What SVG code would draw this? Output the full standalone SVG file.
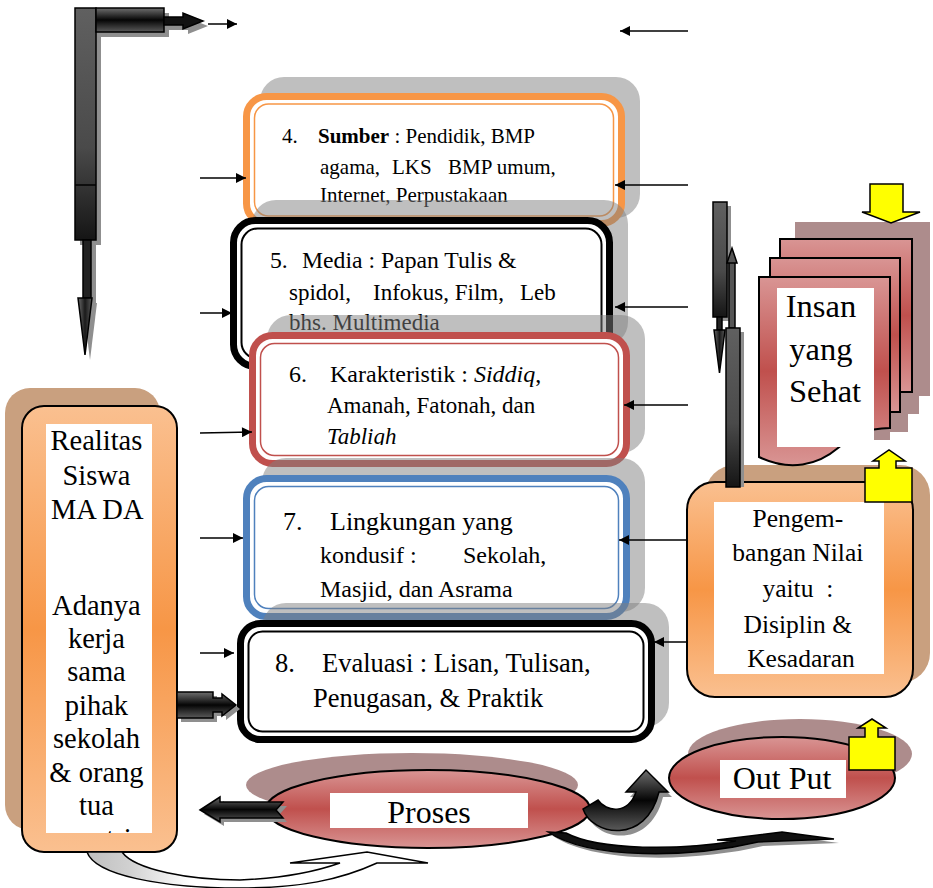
<svg xmlns="http://www.w3.org/2000/svg" width="933" height="888" viewBox="0 0 933 888">
  <style>
    text { font-family: "Liberation Serif", "Times New Roman", Times, "DejaVu Serif", serif; fill: #000; }
    .lnk { stroke: #000; stroke-width: 1.5; fill: none; marker-end: url(#ah); }
    .shade { fill: #7f7f7f; opacity: 0.5; }
    .ol { stroke: #000; stroke-width: 1.5; }
    .page { fill: url(#gRed); stroke: #000; stroke-width: 2; }
    .yel { fill: #FFFF00; stroke: #000; stroke-width: 1.5; }
    .dropS { fill: #8f8f8f; }
  </style>
  <defs>
    <marker id="ah" viewBox="0 0 10 10" refX="10" refY="5" markerWidth="12" markerHeight="10" markerUnits="userSpaceOnUse" orient="auto">
      <path d="M0,0 L10,5 L0,10 Z" fill="#000"/>
    </marker>
    <linearGradient id="gOrange" x1="0" y1="0" x2="0" y2="1">
      <stop offset="0" stop-color="#FAC090"/>
      <stop offset="0.5" stop-color="#F79646"/>
      <stop offset="1" stop-color="#FAC090"/>
    </linearGradient>
    <linearGradient id="gRed" x1="0" y1="0" x2="0" y2="1">
      <stop offset="0" stop-color="#D99594"/>
      <stop offset="0.5" stop-color="#C0504D"/>
      <stop offset="1" stop-color="#D99594"/>
    </linearGradient>
    <linearGradient id="gDarkV" x1="0" y1="0" x2="0" y2="1">
      <stop offset="0" stop-color="#6e6e6e"/>
      <stop offset="0.5" stop-color="#050505"/>
      <stop offset="1" stop-color="#5a5a5a"/>
    </linearGradient>
    <linearGradient id="gDarkH" x1="0" y1="0" x2="1" y2="0">
      <stop offset="0" stop-color="#6e6e6e"/>
      <stop offset="0.5" stop-color="#1a1a1a"/>
      <stop offset="1" stop-color="#5a5a5a"/>
    </linearGradient>
    <linearGradient id="gBar" x1="0" y1="0" x2="0" y2="1">
      <stop offset="0" stop-color="#606060"/>
      <stop offset="0.6" stop-color="#4a4a4a"/>
      <stop offset="1" stop-color="#151515"/>
    </linearGradient>
    <linearGradient id="gWhiteCurve" gradientUnits="userSpaceOnUse" x1="87" y1="0" x2="430" y2="0">
      <stop offset="0" stop-color="#bfbfbf"/>
      <stop offset="0.12" stop-color="#d0d0d0"/>
      <stop offset="0.3" stop-color="#ffffff"/>
    </linearGradient>
    <clipPath id="clipLeft"><rect x="46" y="424" width="106" height="409"/></clipPath>
    <clipPath id="clipB6"><rect x="260" y="340" width="360" height="105"/></clipPath>
  </defs>

  <!-- bent block arrow, top left -->
  <g id="bent-arrow">
    <g transform="translate(5,5)" class="dropS">
      <rect x="75" y="8" width="21" height="232"/>
      <rect x="96" y="8" width="68" height="24"/>
      <path d="M164,17 H183 V13 L203,21 L183,29 V25 H164 Z"/>
      <rect x="83" y="240" width="8" height="58"/>
      <path d="M78,298 H92 L85,355 Z"/>
    </g>
    <rect x="75" y="8" width="21" height="232" fill="url(#gBar)" class="ol"/>
    <line x1="75" y1="185" x2="96" y2="185" stroke="#000" stroke-width="1.5"/>
    <rect x="96" y="8" width="68" height="24" fill="url(#gDarkV)" class="ol"/>
    <path d="M164,17 H183 V13 L203,21 L183,29 V25 H164 Z" fill="#111" class="ol"/>
    <rect x="83" y="240" width="8" height="58" fill="#222" class="ol"/>
    <path d="M78,298 H92 L85,355 Z" fill="url(#gDarkH)" class="ol"/>
  </g>

  <!-- box 4: Sumber -->
  <g id="box-sumber">
    <rect class="shade" x="260" y="77" width="380" height="141" rx="24"/>
    <rect x="246.5" y="96.5" width="375" height="127" rx="20" fill="#fff" stroke="#F79646" stroke-width="7"/>
    <rect x="254.5" y="104" width="359" height="112" rx="14" fill="none" stroke="#F79646" stroke-width="1.5"/>
    <text font-size="21">
      <tspan x="282" y="143">4.</tspan><tspan x="318" y="143" font-weight="bold">Sumber</tspan><tspan> : Pendidik, BMP</tspan>
      <tspan x="320" y="174">agama,</tspan><tspan x="392" y="174">LKS</tspan><tspan x="448" y="174">BMP umum,</tspan>
      <tspan x="320" y="202">Internet, Perpustakaan</tspan>
    </text>
  </g>

  <!-- box 5: Media -->
  <g id="box-media">
    <rect class="shade" x="252" y="200" width="376" height="146" rx="24"/>
    <rect x="233.5" y="220.5" width="376" height="146" rx="22" fill="#fff" stroke="#000" stroke-width="7"/>
    <rect x="241.5" y="228.5" width="360" height="130" rx="16" fill="none" stroke="#000" stroke-width="2"/>
    <text font-size="23">
      <tspan x="270" y="268" font-size="23.7">5.</tspan><tspan x="302" y="268" font-size="23.7">Media : Papan Tulis &amp;</tspan>
      <tspan x="289" y="300">spidol,</tspan><tspan x="373" y="300">Infokus, Film,</tspan><tspan x="520" y="300">Leb</tspan>
      <tspan x="289" y="330">bhs. Multimedia</tspan>
    </text>
  </g>

  <!-- box 6: Karakteristik -->
  <g id="box-karakteristik">
    <rect class="shade" x="267" y="315" width="378" height="138" rx="24"/>
    <rect x="252.5" y="335.5" width="374" height="128" rx="20" fill="#fff" stroke="#C0504D" stroke-width="7"/>
    <rect x="260.5" y="343.5" width="358" height="112" rx="14" fill="none" stroke="#C0504D" stroke-width="1.5"/>
    <text font-size="23" clip-path="url(#clipB6)">
      <tspan x="289" y="382" font-size="24">6.</tspan><tspan x="330" y="382" font-size="24">Karakteristik : </tspan><tspan font-size="24" font-style="italic">Siddiq</tspan><tspan font-size="24">,</tspan>
      <tspan x="327" y="413">Amanah, Fatonah, dan</tspan>
      <tspan x="327" y="444" font-style="italic">Tabligh</tspan>
    </text>
  </g>

  <!-- box 7: Lingkungan -->
  <g id="box-lingkungan">
    <rect class="shade" x="262" y="458" width="383" height="154" rx="24"/>
    <rect x="246.5" y="478.5" width="380" height="138" rx="20" fill="#fff" stroke="#4F81BD" stroke-width="7"/>
    <rect x="254.5" y="486.5" width="364" height="122" rx="14" fill="none" stroke="#4F81BD" stroke-width="1.5"/>
    <text font-size="24">
      <tspan x="283" y="530" font-size="26">7.</tspan><tspan x="330" y="530" font-size="26">Lingkungan yang</tspan>
      <tspan x="320" y="563">kondusif :</tspan><tspan x="463" y="563">Sekolah,</tspan>
      <tspan x="320" y="597">Masjid, dan Asrama</tspan>
    </text>
  </g>

  <!-- box 8: Evaluasi -->
  <g id="box-evaluasi">
    <rect class="shade" x="262" y="603" width="407" height="124" rx="24"/>
    <rect x="240.5" y="623.5" width="411" height="116" rx="20" fill="#fff" stroke="#000" stroke-width="7"/>
    <rect x="248.5" y="631.5" width="395" height="100" rx="14" fill="none" stroke="#000" stroke-width="2"/>
    <text font-size="26.5">
      <tspan x="275" y="672">8.</tspan><tspan x="322" y="672">Evaluasi : Lisan, Tulisan,</tspan>
      <tspan x="313" y="707">Penugasan, &amp; Praktik</tspan>
    </text>
  </g>

  <!-- left column node -->
  <g id="realitas">
    <rect x="5" y="388" width="155" height="442" rx="25" fill="#C9A07F"/>
    <rect x="22" y="406" width="155" height="446" rx="22" fill="url(#gOrange)" stroke="#000" stroke-width="2"/>
    <rect x="46" y="424" width="106" height="409" fill="#fff"/>
    <text font-size="28.5" text-anchor="middle" clip-path="url(#clipLeft)">
      <tspan x="100" y="450">Realitas</tspan>
      <tspan x="100" y="485">Siswa</tspan>
      <tspan x="100" y="519">MA DA</tspan>
      <tspan x="100" y="615">Adanya</tspan>
      <tspan x="100" y="648">kerja</tspan>
      <tspan x="100" y="681">sama</tspan>
      <tspan x="100" y="715">pihak</tspan>
      <tspan x="100" y="748">sekolah</tspan>
      <tspan x="100" y="782">&amp; orang</tspan>
      <tspan x="100" y="815">tua</tspan>
      <tspan x="100" y="848">santri</tspan>
    </text>
  </g>

  <!-- right column node -->
  <g id="pengembangan">
    <rect x="705" y="465" width="225" height="218" rx="30" fill="#C9A07F"/>
    <rect x="687" y="482" width="226" height="215" rx="28" fill="url(#gOrange)" stroke="#000" stroke-width="2"/>
    <rect x="714" y="502" width="170" height="172" fill="#fff"/>
    <text font-size="25.5" text-anchor="middle">
      <tspan x="801" y="527">Pengem-</tspan>
      <tspan x="801" y="561">bangan Nilai</tspan>
      <tspan x="801" y="597" xml:space="preserve">yaitu  :</tspan>
      <tspan x="801" y="633">Disiplin &amp;</tspan>
      <tspan x="801" y="667">Kesadaran</tspan>
    </text>
    <path class="yel" d="M865,502 V468 H879 V461 H873 L889,450 L905,461 H896 V468 H912 V502 Z"/>
  </g>

  <!-- stacked pages -->
  <g id="insan">
    <path d="M795,222 H930 V396 H919 V414 H908 V432 H890 V440 H795 Z" fill="#AD8C8C"/>
    <rect class="page" x="780" y="239" width="132" height="153"/>
    <rect class="page" x="770" y="258" width="130" height="154"/>
    <path class="page" d="M759,277 H890 V428 C865,428 850,438 838,448 C818,465 790,472 759,457 Z"/>
    <rect x="777" y="288" width="97" height="159" fill="#fff"/>
    <text font-size="32.5" text-anchor="middle">
      <tspan x="825" y="317">Insan</tspan>
      <tspan x="825" y="360">yang</tspan>
      <tspan x="825" y="402">Sehat</tspan>
    </text>
    <path class="yel" d="M870,184 H903 V212 H920 L891,223 L862,212 H870 Z"/>
  </g>

  <!-- Proses -->
  <g id="proses">
    <ellipse cx="412" cy="785" rx="166" ry="32" fill="#AD8C8C"/>
    <ellipse cx="428" cy="809" rx="162" ry="39" fill="url(#gRed)" stroke="#000" stroke-width="2"/>
    <rect x="330" y="793" width="198" height="35" fill="#fff"/>
    <text font-size="32" text-anchor="middle" x="429" y="823">Proses</text>
  </g>

  <!-- Out Put -->
  <g id="output">
    <ellipse cx="800" cy="754" rx="112" ry="35" fill="#AD8C8C"/>
    <ellipse cx="782" cy="778" rx="113" ry="41" fill="url(#gRed)" stroke="#000" stroke-width="2"/>
    <rect x="720" y="760" width="126" height="38" fill="#fff"/>
    <text font-size="32" text-anchor="middle" x="782" y="789">Out Put</text>
    <path class="yel" d="M849,770 V737 H865 V728 H858 L872,719 L886,728 H878 V737 H895 V770 Z"/>
  </g>

  <!-- connectors -->
  <g id="connectors">
    <line class="lnk" x1="208" y1="24" x2="237" y2="24"/>
    <line class="lnk" x1="688" y1="31" x2="620" y2="31"/>

    <line class="lnk" x1="200" y1="178" x2="246" y2="178"/>
    <line class="lnk" x1="200" y1="313" x2="232" y2="313"/>
    <line class="lnk" x1="200" y1="433" x2="252" y2="432"/>
    <line class="lnk" x1="200" y1="538" x2="243" y2="538"/>
    <line class="lnk" x1="200" y1="653" x2="234" y2="653"/>

    <line class="lnk" x1="688" y1="185" x2="615" y2="185"/>
    <line class="lnk" x1="688" y1="307" x2="615" y2="307"/>
    <line class="lnk" x1="688" y1="405" x2="624" y2="405"/>
    <line class="lnk" x1="688" y1="540" x2="619" y2="540"/>
    <line class="lnk" x1="688" y1="642" x2="654" y2="642"/>

    <!-- up/down bars beside the pages -->
    <g>
      <rect class="dropS" x="717" y="206" width="14" height="115"/>
      <rect x="713" y="202" width="14" height="115" fill="url(#gBar)" class="ol"/>
      <rect x="717" y="317" width="5" height="13" fill="#222" class="ol"/>
      <path d="M714,330 H725 L719.5,373 Z" fill="url(#gDarkH)" class="ol"/>
      <rect x="729" y="262" width="6" height="66" fill="#555" class="ol"/>
      <path d="M727,263 H737 L732,248 Z" fill="#555" class="ol"/>
      <rect class="dropS" x="730" y="332" width="14" height="155"/>
      <rect x="726" y="328" width="14" height="159" fill="url(#gBar)" class="ol"/>
    </g>

    <!-- block arrow into box 8 -->
    <path class="dropS" transform="translate(4,4)" d="M177,692 H213 V698 H222 V694 L236,705 L222,716 V712 H213 V718 H177 Z"/>
    <path d="M177,692 H213 V698 H222 V694 L236,705 L222,716 V712 H213 V718 H177 Z" fill="url(#gDarkV)" class="ol"/>

    <!-- block arrow from Proses to the left -->
    <path class="dropS" transform="translate(4,4)" d="M200,810 L220,797 V802 H283 L276,810 L283,818 H220 V822 Z"/>
    <path d="M200,810 L220,797 V802 H283 L276,810 L283,818 H220 V822 Z" fill="url(#gDarkV)" class="ol"/>

    <!-- curved arrow Proses to Out Put -->
    <path class="dropS" transform="translate(4,5)" d="M583,809 C592,836 646,845 659,792 L668,792 L646,770 L626,792 L636,792 C628,815 606,812 598,800 Z"/>
    <path d="M583,809 C592,836 646,845 659,792 L668,792 L646,770 L626,792 L636,792 C628,815 606,812 598,800 Z" fill="url(#gDarkV)" class="ol"/>

    <!-- lower sweep arrow -->
    <path class="dropS" transform="translate(5,4)" d="M548,832 L566,833 C600,851 680,850 736,841 L717,840 L782,832 L834,839 L758,842 C690,858 590,860 548,832 Z"/>
    <path d="M548,832 L566,833 C600,851 680,850 736,841 L717,840 L782,832 L834,839 L758,842 C690,858 590,860 548,832 Z" fill="#111" class="ol"/>

    <!-- white return arrow under the left column -->
    <path d="M290,863 L367,852 L428,863 L377,863 C340,880 300,888 240,888 C160,888 95,875 87,852 L122,852 C135,870 190,880 240,880 C290,878 320,870 340,863 Z" fill="url(#gWhiteCurve)" stroke="#000" stroke-width="1.5"/>
  </g>
</svg>
